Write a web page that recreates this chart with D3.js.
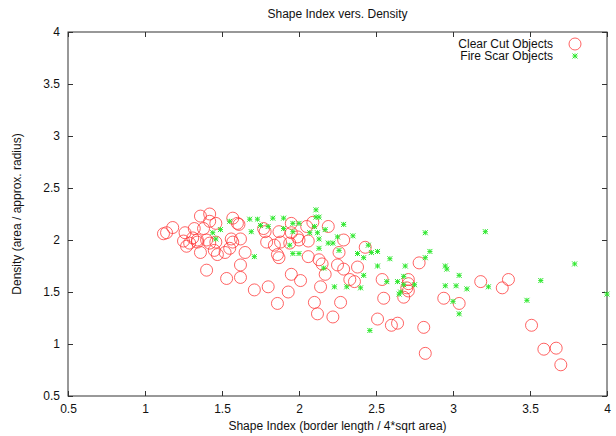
<!DOCTYPE html>
<html>
<head>
<meta charset="utf-8">
<script src="https://d3js.org/d3.v7.min.js"></script>
<style>
  body { margin: 0; background: #fff; }
  svg text { font-family: "Liberation Sans", Arial, Helvetica, sans-serif; fill: #111; }
  .tick line { stroke: #333; }
</style>
</head>
<body>
<svg id="chart" width="616" height="436"></svg>
<script>
// clear cut objects: shape index (x), density (y)
const clearX = [1.12,1.14,1.18,1.36,1.42,1.42,1.46,1.32,1.38,1.26,1.25,1.29,1.31,1.34,1.40,1.42,1.46,1.36,1.40,1.45,
  1.47,1.52,1.55,1.56,1.60,1.53,1.62,1.62,1.27,1.34,1.57,1.61,1.62,1.57,1.65,1.71,1.80,1.86,1.93,1.95,
  2.01,1.77,1.78,1.79,1.84,1.87,1.88,1.86,1.87,1.94,1.95,1.95,1.99,2.00,2.05,2.09,2.06,2.06,2.13,2.15,
  2.17,2.14,2.10,2.12,2.22,2.27,2.19,2.29,2.26,2.25,2.29,2.33,2.36,2.38,2.43,2.54,2.55,2.51,2.60,2.64,
  2.68,2.71,2.71,2.70,2.71,2.78,2.81,2.82,2.94,3.04,3.18,3.36,3.32,3.51,3.59,3.67,3.70];
const clearY = [2.06,2.07,2.12,2.23,2.25,2.18,2.16,2.11,2.11,2.07,1.99,1.97,2.02,2.00,2.00,1.97,1.98,1.88,1.71,1.90,
  1.86,1.88,1.92,2.01,2.16,1.63,1.64,1.76,1.94,1.98,2.21,2.15,2.01,1.98,1.88,1.52,1.55,1.39,1.50,1.67,
  1.61,2.11,2.08,1.98,1.95,2.08,1.98,1.86,1.83,1.97,2.16,2.07,2.03,2.00,2.13,2.17,1.99,1.84,1.81,1.77,
  1.67,1.55,1.40,1.29,1.26,1.40,2.13,2.00,1.88,1.76,1.72,1.62,1.60,1.74,1.93,1.62,1.44,1.24,1.18,1.20,
  1.45,1.62,1.58,1.54,1.51,1.78,1.16,0.91,1.44,1.39,1.60,1.62,1.54,1.18,0.95,0.96,0.80];

// fire scar objects
const fireX = [1.55,1.49,1.44,1.46,1.68,1.73,1.75,1.83,1.90,1.69,1.80,1.96,2.00,1.96,1.94,1.71,1.96,2.00,2.11,2.11,
  2.13,2.10,2.12,2.07,2.17,2.25,2.19,2.22,2.29,2.35,2.13,2.26,2.38,2.16,2.23,2.31,2.45,2.42,2.47,2.51,
  2.42,2.40,2.51,2.59,2.57,2.64,2.69,2.68,2.68,2.66,2.65,2.75,2.82,2.85,2.82,2.95,2.96,3.04,2.95,3.02,
  3.09,3.00,3.04,2.46,3.21,3.23,3.48,3.57,3.79,4.00,1.90,2.13];
const fireY = [2.18,2.10,2.07,2.01,2.20,2.20,2.14,2.21,2.21,2.08,2.13,2.16,2.16,2.08,1.95,1.84,1.87,1.87,2.29,2.22,
  2.22,2.13,2.07,2.07,2.10,2.03,1.97,1.97,2.15,2.04,2.01,1.90,1.87,1.73,1.55,1.55,1.95,1.83,1.88,1.89,
  1.66,1.54,1.75,1.82,1.60,1.60,1.75,1.65,1.57,1.50,1.48,1.57,2.07,1.89,1.83,1.75,1.72,1.66,1.56,1.56,
  1.53,1.41,1.29,1.13,2.08,1.55,1.42,1.61,1.77,1.48,2.11,1.92];

const xTicks = [0.5, 1, 1.5, 2, 2.5, 3, 3.5, 4];
const yTicks = [0.5, 1, 1.5, 2, 2.5, 3, 3.5, 4];
const seriesNames = ["Clear Cut Objects", "Fire Scar Objects"];

const svg = d3.select('#chart');
const margin = { left: 68, top: 32, right: 9, bottom: 40 };
const width = +svg.attr('width');
const height = +svg.attr('height');
const innerWidth = width - margin.left - margin.right;
const innerHeight = height - margin.top - margin.bottom;

const xScale = d3.scaleLinear().domain([0.5, 4]).range([0, innerWidth]);
const yScale = d3.scaleLinear().domain([0.5, 4]).range([innerHeight, 0]);
const fmt = d => String(d);

const g = svg.append('g').attr('transform', `translate(${margin.left},${margin.top})`);

// axes, gnuplot style: ticks pointing inward, mirrored on top/right
const xAxisG = g.append('g').attr('transform', `translate(0,${innerHeight})`)
  .call(d3.axisBottom(xScale).tickValues(xTicks).tickFormat(fmt).tickSize(-5).tickPadding(8));
const yAxisG = g.append('g')
  .call(d3.axisLeft(yScale).tickValues(yTicks).tickFormat(fmt).tickSize(-5).tickPadding(8));
const topAxisG = g.append('g')
  .call(d3.axisTop(xScale).tickValues(xTicks).tickSize(-5));
const rightAxisG = g.append('g').attr('transform', `translate(${innerWidth},0)`)
  .call(d3.axisRight(yScale).tickValues(yTicks).tickSize(-5));
// mirror axes only need the tick marks
topAxisG.selectAll('.tick text').remove();
rightAxisG.selectAll('.tick text').remove();
g.selectAll('.domain').remove();
g.selectAll('.tick text').style('font-size', '12px');

g.append('rect')
  .attr('width', innerWidth)
  .attr('height', innerHeight)
  .attr('fill', 'none')
  .attr('stroke', '#333')
  .attr('stroke-width', 1);

// labels
svg.append('text')
  .attr('x', margin.left + innerWidth / 2)
  .attr('y', 18)
  .attr('text-anchor', 'middle')
  .style('font-size', '12px')
  .text('Shape Index vers. Density');

svg.append('text')
  .attr('x', margin.left + innerWidth / 2)
  .attr('y', 430)
  .attr('text-anchor', 'middle')
  .style('font-size', '12px')
  .text('Shape Index (border length / 4*sqrt area)');

svg.append('text')
  .attr('transform', `translate(21,${margin.top + innerHeight / 2}) rotate(-90)`)
  .attr('text-anchor', 'middle')
  .style('font-size', '12px')
  .text('Density (area / approx. radius)');

const starPath = s => `M${-s},0L${s},0M0,${-s}L0,${s}M${-s},${-s}L${s},${s}M${-s},${s}L${s},${-s}`;

const clearData = clearX.map((x, i) => ({ x, y: clearY[i] }));
const fireData = fireX.map((x, i) => ({ x, y: fireY[i] }));

g.append('g').selectAll('circle')
  .data(clearData)
  .enter().append('circle')
    .attr('cx', d => xScale(d.x))
    .attr('cy', d => yScale(d.y))
    .attr('r', 6)
    .attr('fill', 'none')
    .attr('stroke', '#ff3030')
    .attr('stroke-opacity', 0.75)
    .attr('stroke-width', 1);

g.append('g').selectAll('path')
  .data(fireData)
  .enter().append('path')
    .attr('transform', d => `translate(${xScale(d.x)},${yScale(d.y)})`)
    .attr('d', starPath(2.5))
    .attr('stroke', '#2ee82e')
    .attr('stroke-width', 1)
    .attr('fill', 'none');

// legend
const legend = svg.append('g');
legend.selectAll('text')
  .data(seriesNames)
  .enter().append('text')
    .attr('x', 553)
    .attr('y', (d, i) => 48 + i * 12)
    .attr('text-anchor', 'end')
    .style('font-size', '12px')
    .text(d => d);
legend.append('circle')
  .attr('cx', 575).attr('cy', 44).attr('r', 6)
  .attr('fill', 'none').attr('stroke', '#ff3030').attr('stroke-opacity', 0.75);
legend.append('path')
  .attr('transform', 'translate(575,56)')
  .attr('d', starPath(2.5))
  .attr('stroke', '#2ee82e').attr('fill', 'none');
</script>
</body>
</html>
